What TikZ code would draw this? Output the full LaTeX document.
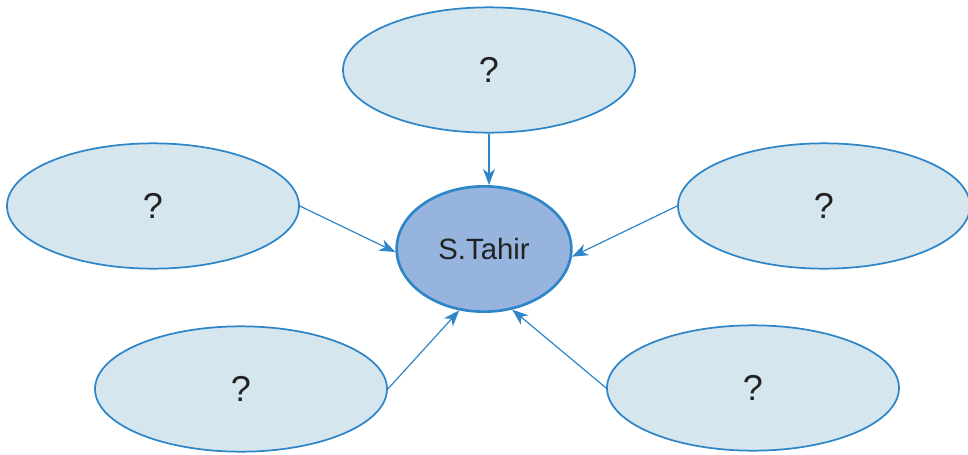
\documentclass[tikz,border=0pt]{standalone}
\usepackage{fontspec}
\setmainfont{Liberation Sans}
\usetikzlibrary{shapes.geometric,arrows.meta}
\definecolor{edge}{HTML}{2E86C8}
\definecolor{lightfill}{HTML}{D6E6EF}
\definecolor{centerfill}{HTML}{96B4DE}
\definecolor{txt}{HTML}{222222}
\begin{document}
\begin{tikzpicture}[x=0.75pt,y=-0.75pt,
  outer/.style={ellipse,draw=edge,line width=1.3pt,fill=lightfill,minimum width=219pt,minimum height=94pt,inner sep=0pt,text=txt,font=\fontsize{27}{30}\selectfont},
  hub/.style={ellipse,draw=edge,line width=2pt,fill=centerfill,minimum width=131pt,minimum height=94pt,inner sep=0pt,text=txt,font=\fontsize{22}{25}\selectfont},
  conn/.style={draw=edge,line width=0.9pt,-{Stealth[length=12pt,width=9pt,inset=3.5pt]}}]
\useasboundingbox (0,0) rectangle (968,454);
\node[hub] (c) at (484,249) {S.Tahir};
\node[outer] (t) at (489,70) {?};
\node[outer] (l) at (153,206) {?};
\node[outer] (r) at (824,206) {?};
\node[outer] (bl) at (241,389) {?};
\node[outer] (br) at (753,388) {?};
\draw[conn] (t.south) -- (t.south |- c.north);
\draw[conn] (l.east) -- (c.182);
\draw[conn] (r.west) -- (c.355);
\draw[conn] (bl.east) -- (c.248);
\draw[conn] (br.west) -- (c.295);
\end{tikzpicture}
\end{document}
